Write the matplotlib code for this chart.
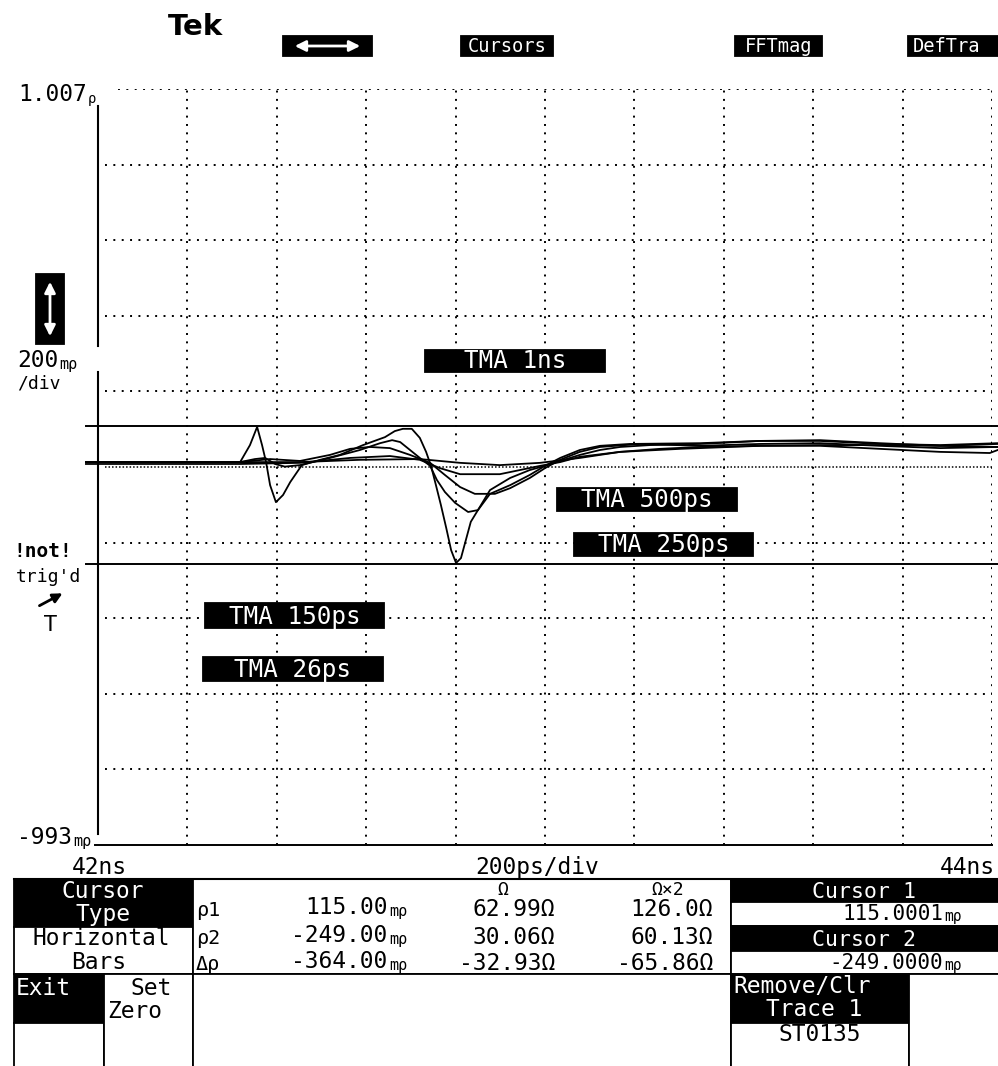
import matplotlib
matplotlib.use("Agg")
import matplotlib.pyplot as plt
from matplotlib.patches import Rectangle, FancyArrowPatch
from matplotlib.text import Annotation

# ---- screen data (time in ps after 42 ns, reflection in m-rho) ----
t_26ps = [-27, 318, 340, 356, 367, 376, 385, 398, 414, 430, 456, 497, 541, 593, 642, 664, 682,
          702, 720, 734, 745, 756, 767, 779, 790, 801, 812, 823, 834, 850, 877, 922, 966, 1000,
          1034, 1078, 1123, 1168, 1235, 1347, 1481, 1615, 1749, 1884, 2013]
rho_26ps = [20, 20, 65, 113, 65, 20, -41, -86, -67, -33, 12, 26, 39, 65, 86, 102, 108,
            108, 84, 47, 10, -41, -93, -154, -213, -247, -234, -186, -138, -107, -54, -22, -1, 10,
            23, 39, 52, 60, 65, 68, 76, 76, 68, 65, 70]

t_150ps = [-27, 318, 351, 374, 396, 418, 452, 519, 586, 631, 658, 676, 698, 720, 743, 758, 776,
           799, 828, 850, 877, 922, 966, 1000, 1034, 1078, 1123, 1190, 1347, 1481, 1615, 1749,
           1884, 2013]
rho_150ps = [20, 20, 28, 31, 15, 8, 12, 31, 52, 70, 78, 73, 52, 31, 10, -27, -59,
             -88, -112, -107, -64, -41, -14, 10, 31, 52, 63, 68, 70, 76, 78, 70,
             63, 68]

t_250ps = [-27, 318, 385, 452, 519, 564, 608, 653, 698, 743, 776, 810, 843, 888, 922, 966, 1000,
           1034, 1078, 1123, 1213, 1347, 1481, 1615, 1749, 1884, 2013]
rho_250ps = [20, 20, 28, 23, 39, 55, 60, 57, 39, 18, -14, -46, -64, -64, -49, -22, 4,
             26, 47, 60, 68, 63, 68, 70, 63, 57, 60]

t_500ps = [-27, 318, 452, 564, 653, 720, 765, 810, 899, 944, 989, 1034, 1078, 1168, 1257, 1347,
           1481, 1615, 1749, 1884, 1995, 2013]
rho_500ps = [15, 15, 18, 31, 36, 26, 4, -12, -12, -1, 10, 20, 34, 47, 55, 60,
             63, 63, 55, 47, 44, 52]

t_1ns = [-27, 318, 452, 586, 720, 810, 899, 989, 1078, 1168, 1302, 1481, 1615, 1749, 1884, 2013]
rho_1ns = [20, 20, 20, 26, 28, 18, 12, 18, 31, 47, 55, 63, 65, 65, 63, 60]

cursor_1 = 115.0
cursor_2 = -249.0
y_bottom, y_top, y_div = -993, 1007, 200
x_span, x_div = 2000, 200

menu_keys = ["Cursors", "FFTmag", "DefTra"]
readout_rows = [("ρ1", "115.00", "62.99Ω", "126.0Ω"),
                ("ρ2", "-249.00", "30.06Ω", "60.13Ω"),
                ("Δρ", "-364.00", "-32.93Ω", "-65.86Ω")]
cursor_values = ["115.0001", "-249.0000"]
trace_labels = ["TMA 1ns", "TMA 500ps", "TMA 250ps", "TMA 150ps", "TMA 26ps"]

W, H = 998, 1066
MONO = "DejaVu Sans Mono"
BIG = 16.5

fig = plt.figure(figsize=(W / 100, H / 100), dpi=100)
ax = fig.add_axes([98 / W, 1 - 845 / H, 894 / W, 756 / H])
ax.set_xlim(0, x_span)
ax.set_ylim(y_bottom, y_top)
ax.axis("off")


def fx(x):
    return x / W


def fy(y):
    return 1 - y / H


def box(x0, y0, x1, y1, fc="black", lw=1.3):
    fig.add_artist(Rectangle((fx(x0), fy(y1)), (x1 - x0) / W, (y1 - y0) / H,
                             transform=fig.transFigure, fc=fc, ec="black", lw=lw))


def txt(x, y, s, size=BIG, color="black", ha="left", weight="normal", family=MONO):
    return fig.text(fx(x), fy(y), s, fontsize=size, color=color, ha=ha, va="baseline",
                    family=family, weight=weight, zorder=5)


def attach(s, ref, corner, ha, dx, size, color):
    a = Annotation(s, xy=corner, xycoords=ref, xytext=(dx, 0), textcoords="offset points",
                   fontsize=size, family=MONO, color=color, va="bottom", ha=ha, zorder=5)
    fig.add_artist(a)
    return a


def txt_unit(x, y, main, unit, size=BIG, usize=11, ha="left", color="black"):
    # big number followed by a small unit, like the scope font
    if ha == "left":
        t = txt(x, y, main, size=size, color=color)
        attach(unit, t, (1, 0), "left", 1, usize, color)
    else:
        u = txt(x, y, unit, size=usize, color=color, ha="right")
        attach(main, u, (0, 0), "right", -1, size, color)


# ---- graticule ----
dot = (0, (1, 3.3))
for k in range(1, x_span // x_div + 1):
    ax.axvline(k * x_div, color="black", lw=1.4, ls=dot)
for k in range(1, 11):
    yv = y_bottom + k * y_div
    if k == 5:
        ax.axhline(yv, xmin=0.008, color="black", lw=1.1, ls=(0, (1, 1.3)))
    elif k == 10:
        ax.axhline(yv, xmin=0.022, color="black", lw=1.4, ls=dot)
    else:
        ax.axhline(yv, xmin=0.008, color="black", lw=1.4, ls=dot)

ax.plot([0, 0], [0.9775, 0.660], transform=ax.transAxes, color="black", lw=1.5, clip_on=False)
ax.plot([0, 0], [0.6257, 0.014], transform=ax.transAxes, color="black", lw=1.5, clip_on=False)
ax.axhline(y_bottom, xmin=-3 / 894, xmax=1.0, color="black", lw=1.4, clip_on=False)

# cursors
for c in (cursor_1, cursor_2):
    ax.axhline(c, xmin=-12 / 894, xmax=906 / 894, color="black", lw=1.4, clip_on=False)

# traces
for t, r in [(t_1ns, rho_1ns), (t_500ps, rho_500ps), (t_250ps, rho_250ps),
             (t_150ps, rho_150ps), (t_26ps, rho_26ps)]:
    ax.plot(t, r, color="black", lw=1.3, clip_on=False)

# trace labels
label_boxes = [(425, 350, 605, 372), (557, 488, 737, 511), (574, 533, 753, 556),
               (205, 603, 384, 628), (203, 657, 383, 681)]
for s, (x0, y0, x1, y1) in zip(trace_labels, label_boxes):
    box(x0, y0, x1, y1)
    txt((x0 + x1) / 2, y1 - 4, s, size=17.5, color="white", ha="center")

# ---- top menu ----
txt(168, 35, "Tek", size=21, weight="bold", family="DejaVu Sans")
box(283, 36, 372, 56)
fig.add_artist(FancyArrowPatch((fx(292), fy(46)), (fx(363), fy(46)), transform=fig.transFigure,
                               arrowstyle="<|-|>", mutation_scale=16, color="white", lw=2))
menu_boxes = [(461, 553), (735, 822), (908, 1000)]
for s, (x0, x1) in zip(menu_keys, menu_boxes):
    box(x0, 36, x1, 56)
    if x1 > W:
        txt(x0 + 5, 52, s, size=13.5, color="white")
    else:
        txt((x0 + x1) / 2, 52, s, size=13.5, color="white", ha="center")

# ---- left side labels ----
txt_unit(18, 101, "1.007", "ρ", size=BIG, usize=10)
box(36, 274, 64, 344)
fig.add_artist(FancyArrowPatch((fx(50), fy(279)), (fx(50), fy(339)), transform=fig.transFigure,
                               arrowstyle="<|-|>", mutation_scale=16, color="white", lw=2))
txt_unit(17, 367, "200", "mρ", size=BIG, usize=11)
txt(17, 389, "/div", size=13)
txt(13, 557, "!not!", size=14, weight="bold")
txt(16, 582, "trig'd", size=13)
fig.add_artist(FancyArrowPatch((fx(37), fy(607)), (fx(65), fy(592)), transform=fig.transFigure,
                               arrowstyle="-|>", mutation_scale=14, color="black", lw=2))
txt(50, 631, "T", size=15, ha="center", family="DejaVu Sans")
txt_unit(17, 844, "-993", "mρ", size=BIG, usize=11)

# time axis labels
txt(72, 874, "42ns", size=BIG)
txt(537, 874, "200ps/div", size=BIG, ha="center")
txt(995, 874, "44ns", size=BIG, ha="right")

# ---- bottom readout panel ----
fig.add_artist(plt.Line2D([fx(14), fx(998)], [fy(879), fy(879)], transform=fig.transFigure,
                          color="black", lw=1.5))
box(14, 879, 193, 927)
txt(103, 898, "Cursor", color="white", ha="center")
txt(103, 921, "Type", color="white", ha="center")
box(14, 927, 193, 974, fc="white")
txt(101, 945, "Horizontal", ha="center")
txt(99, 969, "Bars", ha="center")
box(193, 879, 731, 974, fc="white")
box(14, 974, 104, 1023)
txt(16, 995, "Exit", color="white")
box(14, 1023, 104, 1068, fc="white")
box(104, 974, 193, 1068, fc="white")
txt(172, 995, "Set", ha="right")
txt(107, 1018, "Zero")
box(193, 974, 731, 1068, fc="white")

txt(503, 895, "Ω", size=13, ha="center")
txt(668, 895, "Ω×2", size=13, ha="center")
row_base = [916, 944, 970]
for (name, val, z1, z2), yb in zip(readout_rows, row_base):
    txt(196, yb, name, size=14.5)
    txt_unit(407, yb, val, "mρ", usize=11, ha="right")
    txt(555, yb, z1, ha="right")
    txt(713, yb, z2, ha="right")

box(731, 879, 1000, 902)
txt(864, 898, "Cursor 1", size=15.5, color="white", ha="center")
box(731, 902, 1000, 926, fc="white")
txt_unit(962, 921, cursor_values[0], "mρ", size=15, usize=10.5, ha="right")
box(731, 926, 1000, 951)
txt(864, 946, "Cursor 2", size=15.5, color="white", ha="center")
box(731, 951, 1000, 974, fc="white")
txt_unit(962, 970, cursor_values[1], "mρ", size=15, usize=10.5, ha="right")

box(731, 974, 909, 1023)
txt(733, 993, "Remove/Clr", color="white")
txt(814, 1016, "Trace 1", color="white", ha="center")
box(731, 1023, 909, 1068, fc="white")
txt(820, 1041, "ST0135", ha="center")
box(909, 974, 1000, 1068, fc="white", lw=1.3)

fig.savefig("out.png", dpi=100, facecolor="white")
